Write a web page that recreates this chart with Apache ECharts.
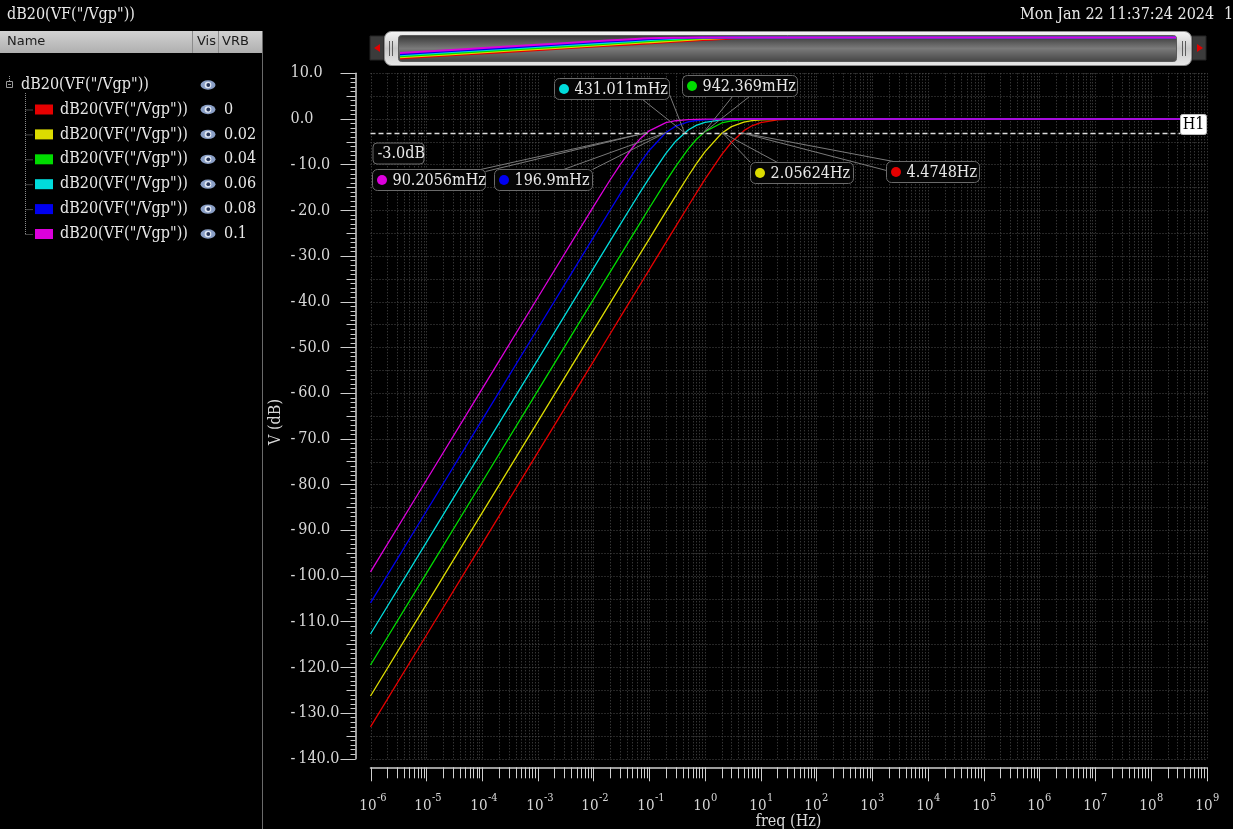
<!DOCTYPE html>
<html>
<head>
<meta charset="utf-8">
<script src="https://cdn.jsdelivr.net/npm/echarts@6/dist/echarts.min.js"></script>
<style>
  html, body { margin: 0; padding: 0; background: #000; }
  #chart { width: 1233px; height: 829px; }
</style>
</head>
<body>
<div id="chart"></div>
<script>
// ---- data -------------------------------------------------------------
// sweep frequencies (Hz)
const freq = [1e-6, 1e-5, 1e-4, 1e-3, 0.01, 0.02, 0.03, 0.05, 0.07, 0.1, 0.2, 0.3, 0.5, 0.7,
              1, 2, 3, 5, 7, 10, 20, 30, 50, 70, 100, 1000, 1e9];

// dB20(VF("/Vgp")) for each VRB value
const db_vrb_0    = [-133.02, -113.02, -93.02, -73.02, -53.02, -46.99, -43.47, -39.04, -36.11, -33.02,
                     -27.00, -23.49, -19.09, -16.22, -13.23, -7.79, -5.09, -2.55, -1.49, -0.79,
                     -0.21, -0.10, -0.03, -0.02, -0.01, 0, 0];
const db_vrb_0_02 = [-126.26, -106.26, -86.26, -66.26, -46.26, -40.24, -36.72, -32.28, -29.36, -26.27,
                     -20.28, -16.81, -12.53, -9.84, -7.18, -3.13, -1.67, -0.68, -0.36, -0.18,
                     -0.05, -0.02, -0.01, 0, 0, 0, 0];
const db_vrb_0_04 = [-119.48, -99.48, -79.48, -59.48, -39.48, -33.47, -29.95, -25.52, -22.61, -19.53,
                     -13.66, -10.36, -6.58, -4.49, -2.76, -0.87, -0.41, -0.15, -0.08, -0.04,
                     -0.01, 0, 0, 0, 0, 0, 0];
const db_vrb_0_06 = [-112.69, -92.69, -72.69, -52.69, -32.69, -26.68, -23.17, -18.77, -15.90, -12.92,
                     -7.52, -4.86, -2.41, -1.40, -0.74, -0.20, -0.09, -0.03, -0.02, -0.01,
                     0, 0, 0, 0, 0, 0, 0];
const db_vrb_0_08 = [-105.89, -85.89, -65.89, -45.89, -25.90, -19.91, -16.44, -12.18, -9.50, -6.88,
                     -2.94, -1.56, -0.63, -0.33, -0.17, -0.04, -0.02, -0.01, 0, 0,
                     0, 0, 0, 0, 0, 0, 0];
const db_vrb_0_1  = [-99.10, -79.10, -59.10, -39.11, -19.16, -13.29, -10.02, -6.29, -4.25, -2.59,
                     -0.80, -0.38, -0.14, -0.07, -0.04, -0.01, 0, 0, 0, 0,
                     0, 0, 0, 0, 0, 0, 0];

const vrbValues = ['0', '0.02', '0.04', '0.06', '0.08', '0.1'];
const traceValues = [db_vrb_0, db_vrb_0_02, db_vrb_0_04, db_vrb_0_06, db_vrb_0_08, db_vrb_0_1];
const traceName = 'dB20(VF("/Vgp"))';

// -3 dB crossing of each trace (Hz), same order as vrbValues
const cornerFreqs = [4.4748, 2.05624, 0.942369, 0.431011, 0.1969, 0.0902056];
const cornerLevel = -3.0;

// axis ranges and tick labels
const decadeExponents = [-6, -5, -4, -3, -2, -1, 0, 1, 2, 3, 4, 5, 6, 7, 8, 9];
const yMin = -140, yMax = 10;

// ---- styling ------------------------------------------------------------
const SERIF = '"DejaVu Serif Condensed", "DejaVu Serif", serif';
const SANS = '"DejaVu Sans", "Noto Sans", sans-serif';
const AXIS_COLOR = '#cfcfcf';
const GRID_COLOR = '#4c4c4c';
const TEXT_COLOR = '#e8e8e8';
const LABEL_COLOR = '#d8d8d8';
const traceColors = ['#e60000', '#dcdc00', '#00dc00', '#00dcdc', '#0000f0', '#dc00dc'];

// label boxes for the -3 dB markers: offset from the crossing point, box width,
// and the two points on the box where the leader lines start
const markerBoxes = [
  { dx: 145,  dy: 28,  w: 93,  a: [[0, 9], [7, 0]] },
  { dx: 28,   dy: 29,  w: 103, a: [[0, 0], [27, 0]] },
  { dx: -21,  dy: -58, w: 115, a: [[50, 21], [67, 21]] },
  { dx: -131, dy: -55, w: 115, a: [[88, 21], [115, 16]] },
  { dx: -172, dy: 36,  w: 98,  a: [[69, 0], [98, 0]] },
  { dx: -275, dy: 36,  w: 113, a: [[108, 0], [113, 2]] }
];

function freqLabel(f) {
  const v = f < 1 ? f * 1000 : f;
  return String(parseFloat(v.toPrecision(6))) + (f < 1 ? 'mHz' : 'Hz');
}

// log-axis tick positions: 1..9 x 10^n for every decade, plus the last decade
const tickData = [];
for (let i = 0; i < decadeExponents.length - 1; i++) {
  for (let m = 1; m <= 9; m++) {
    tickData.push([Number((m * Math.pow(10, decadeExponents[i])).toPrecision(12)), m, decadeExponents[i]]);
  }
}
tickData.push([Math.pow(10, decadeExponents[decadeExponents.length - 1]), 1,
               decadeExponents[decadeExponents.length - 1]]);

const X_AXIS_OFFSET = 8.5;

// ---- window chrome (title, tree panel, scroll bar) -----------------------
function txt(x, y, text, extra) {
  return {
    type: 'text', x: x, y: y, silent: true,
    style: Object.assign({
      text: text, fill: TEXT_COLOR, font: '16px ' + SERIF,
      textAlign: 'left', textVerticalAlign: 'middle', align: 'left', verticalAlign: 'middle'
    }, extra || {})
  };
}
function eye(cx, cy) {
  return {
    type: 'group', x: cx, y: cy, silent: true,
    children: [
      { type: 'group', scaleY: 0.62, children: [
        { type: 'circle', shape: { cx: 0, cy: 0, r: 7.5 }, style: { fill: '#8a9fc6' } }
      ]},
      { type: 'circle', shape: { cx: 0, cy: 0, r: 3.3 }, style: { fill: '#e2e9f5' } },
      { type: 'circle', shape: { cx: 0.3, cy: 0, r: 1.9 }, style: { fill: '#27365a' } }
    ]
  };
}

const graphics = [];
// title line
graphics.push(txt(7, 15, traceName));
graphics.push(txt(1020, 15, 'Mon Jan 22 11:37:24 2024'));
graphics.push(txt(1224, 15, '1'));

// tree header
graphics.push({
  type: 'rect', silent: true, shape: { x: 0, y: 31, width: 262, height: 22 },
  style: { fill: { type: 'linear', x: 0, y: 0, x2: 0, y2: 1,
    colorStops: [{ offset: 0, color: '#d2d2d2' }, { offset: 1, color: '#afafaf' }] } }
});
[192.5, 218.5].forEach(function (x) {
  graphics.push({ type: 'line', silent: true, shape: { x1: x, y1: 31, x2: x, y2: 53 },
    style: { stroke: '#8c8c8c', lineWidth: 1 } });
});
graphics.push(txt(7, 42, 'Name', { fill: '#1c1c1c', font: '13px ' + SANS }));
graphics.push(txt(197, 42, 'Vis', { fill: '#1c1c1c', font: '13px ' + SANS }));
graphics.push(txt(222, 42, 'VRB', { fill: '#1c1c1c', font: '13px ' + SANS }));
graphics.push({ type: 'line', silent: true, shape: { x1: 262.5, y1: 31, x2: 262.5, y2: 829 },
  style: { stroke: '#6a6a6a', lineWidth: 1 } });

// tree root
const rootY = 85, rowStep = 24.9, firstRowY = 109.5;
graphics.push({ type: 'rect', silent: true, shape: { x: 6.5, y: rootY - 3.5, width: 6, height: 6 },
  style: { fill: 'none', stroke: '#9a9a9a', lineWidth: 1 } });
graphics.push({ type: 'line', silent: true, shape: { x1: 8, y1: rootY - 0.5, x2: 11, y2: rootY - 0.5 },
  style: { stroke: '#9a9a9a', lineWidth: 1 } });
graphics.push({ type: 'line', silent: true, shape: { x1: 9.5, y1: 76, x2: 9.5, y2: rootY - 4 },
  style: { stroke: '#9a9a9a', lineWidth: 1, lineDash: [1, 1] } });
graphics.push(txt(21, rootY, traceName));
graphics.push(eye(208, rootY));

// tree children, one per trace
const lastRowY = firstRowY + rowStep * (vrbValues.length - 1);
graphics.push({ type: 'line', silent: true, shape: { x1: 25.5, y1: 93, x2: 25.5, y2: lastRowY },
  style: { stroke: '#8a8a8a', lineWidth: 1, lineDash: [1, 1] } });
vrbValues.forEach(function (v, i) {
  const y = firstRowY + rowStep * i;
  graphics.push({ type: 'line', silent: true, shape: { x1: 25.5, y1: y + 0.5, x2: 33, y2: y + 0.5 },
    style: { stroke: '#8a8a8a', lineWidth: 1, lineDash: [1, 1] } });
  graphics.push({ type: 'rect', silent: true, shape: { x: 35, y: y - 5, width: 18, height: 10 },
    style: { fill: traceColors[i] } });
  graphics.push(txt(60, y, traceName));
  graphics.push(eye(208, y));
  graphics.push(txt(224, y, v));
});

// y axis title
graphics.push({
  type: 'text', x: 276, y: 422, rotation: Math.PI / 2, silent: true,
  style: { text: 'V (dB)', fill: LABEL_COLOR, font: '16px ' + SERIF,
    textAlign: 'center', textVerticalAlign: 'middle', align: 'center', verticalAlign: 'middle' }
});

// scroll bar with overview
graphics.push({ type: 'rect', silent: true, z: 0, shape: { x: 370, y: 36, width: 14, height: 24 },
  style: { fill: '#3b3b3b', stroke: '#242424' } });
graphics.push({ type: 'polygon', silent: true, z: 1, shape: { points: [[380, 44], [380, 52], [374, 48]] },
  style: { fill: '#e00000' } });
graphics.push({ type: 'rect', silent: true, z: 0, shape: { x: 1192, y: 36, width: 14, height: 24 },
  style: { fill: '#3b3b3b', stroke: '#242424' } });
graphics.push({ type: 'polygon', silent: true, z: 1, shape: { points: [[1197, 44], [1197, 52], [1203, 48]] },
  style: { fill: '#e00000' } });
graphics.push({ type: 'rect', silent: true, z: 0, shape: { x: 384.5, y: 31.5, width: 807, height: 34, r: 7 },
  style: { stroke: '#8e8e8e', lineWidth: 1, fill: { type: 'linear', x: 0, y: 0, x2: 0, y2: 1,
    colorStops: [{ offset: 0, color: '#f6f6f6' }, { offset: 0.5, color: '#c9c9c9' }, { offset: 1, color: '#e9e9e9' }] } }
});
graphics.push({ type: 'rect', silent: true, z: 0, shape: { x: 398.5, y: 35.5, width: 778, height: 26, r: 3 },
  style: { stroke: '#5a5a5a', lineWidth: 1, fill: { type: 'linear', x: 0, y: 0, x2: 0, y2: 1,
    colorStops: [{ offset: 0, color: '#353535' }, { offset: 0.5, color: '#7a7a7a' }, { offset: 1, color: '#444444' }] } }
});
[389.5, 392.5, 1182.5, 1185.5].forEach(function (x) {
  graphics.push({ type: 'line', silent: true, z: 1, shape: { x1: x, y1: 41, x2: x, y2: 56 },
    style: { stroke: '#5c5c5c', lineWidth: 1 } });
});

// ---- series -------------------------------------------------------------
const series = [];

// x axis ticks, decade labels and the dotted vertical grid
series.push({
  type: 'custom', xAxisIndex: 0, yAxisIndex: 0, z: 1, silent: true, clip: false,
  data: tickData,
  renderItem: function (params, api) {
    const f = api.value(0), m = api.value(1), e = api.value(2);
    const top = api.coord([f, yMax]);
    const bot = api.coord([f, yMin]);
    const x = Math.round(top[0]) + 0.5;
    const ay = bot[1] + X_AXIS_OFFSET;
    const children = [
      { type: 'line', shape: { x1: x, y1: top[1], x2: x, y2: bot[1] },
        style: { stroke: GRID_COLOR, lineWidth: 1, lineDash: [1, 2] } },
      { type: 'line', shape: { x1: x, y1: ay, x2: x, y2: ay + (m === 1 ? 14 : 11) },
        style: { stroke: AXIS_COLOR, lineWidth: 1 } }
    ];
    if (m === 1) {
      children.push({ type: 'text', x: x + 5, y: ay + 39,
        style: { text: '10', fill: LABEL_COLOR, font: '15px ' + SERIF,
          textAlign: 'right', textVerticalAlign: 'middle', align: 'right', verticalAlign: 'middle' } });
      children.push({ type: 'text', x: x + 5.5, y: ay + 31,
        style: { text: String(e), fill: LABEL_COLOR, font: '11px ' + SERIF,
          textAlign: 'left', textVerticalAlign: 'middle', align: 'left', verticalAlign: 'middle' } });
    }
    return { type: 'group', children: children };
  }
});

traceValues.forEach(function (vals, i) {
  const pts = freq.map(function (f, k) { return [f, vals[k]]; });
  series.push({
    type: 'line', name: vrbValues[i], xAxisIndex: 0, yAxisIndex: 0, z: 3 + i,
    data: pts, showSymbol: false, symbol: 'none', silent: true, animation: false,
    lineStyle: { color: traceColors[i], width: 1.3 }
  });
  // overview inside the scroll bar
  series.push({
    type: 'line', name: vrbValues[i] + ' overview', xAxisIndex: 1, yAxisIndex: 2, z: 3 + i,
    data: pts, showSymbol: false, symbol: 'none', silent: true, animation: false,
    lineStyle: { color: traceColors[i], width: 2 }
  });
});

// horizontal marker H1 at the -3 dB level
series.push({
  type: 'custom', xAxisIndex: 0, yAxisIndex: 0, z: 20, silent: true, clip: false,
  data: [[Math.pow(10, decadeExponents[0]), cornerLevel]],
  renderItem: function (params, api) {
    const p = api.coord([api.value(0), api.value(1)]);
    const right = api.coord([Math.pow(10, decadeExponents[decadeExponents.length - 1]), api.value(1)]);
    const y = Math.round(p[1]) + 0.5;
    return {
      type: 'group',
      children: [
        { type: 'line', shape: { x1: p[0], y1: y, x2: right[0] - 26, y2: y },
          style: { stroke: '#dcdcdc', lineWidth: 1.5, lineDash: [5, 3] } },
        { type: 'rect', shape: { x: right[0] - 26, y: y - 19, width: 26, height: 20, r: 2 },
          style: { fill: '#ffffff', stroke: '#bbbbbb' } },
        { type: 'text', x: right[0] - 13, y: y - 9,
          style: { text: 'H1', fill: '#000', font: '16px ' + SERIF,
            textAlign: 'center', textVerticalAlign: 'middle', align: 'center', verticalAlign: 'middle' } },
        { type: 'rect', shape: { x: p[0] + 2.5, y: y + 9.5, width: 51, height: 21, r: 4 },
          style: { fill: '#050505', stroke: '#6a6a6a', lineWidth: 1 } },
        { type: 'text', x: p[0] + 7, y: y + 20,
          style: { text: api.value(1).toFixed(1) + 'dB', fill: TEXT_COLOR, font: '16px ' + SERIF,
            textAlign: 'left', textVerticalAlign: 'middle', align: 'left', verticalAlign: 'middle' } }
      ]
    };
  }
});

// -3 dB crossing markers with leader lines
series.push({
  type: 'custom', xAxisIndex: 0, yAxisIndex: 0, z: 21, silent: true, clip: false,
  data: cornerFreqs.map(function (f, i) { return [f, cornerLevel, i]; }),
  renderItem: function (params, api) {
    const i = api.value(2);
    const f = api.value(0);
    const p = api.coord([f, api.value(1)]);
    const b = markerBoxes[i];
    const bx = Math.round(p[0] + b.dx) + 0.5, by = Math.round(p[1] + b.dy) + 0.5;
    const children = b.a.map(function (a) {
      return { type: 'line', shape: { x1: bx + a[0], y1: by + a[1], x2: p[0], y2: p[1] },
        style: { stroke: '#7a7a7a', lineWidth: 1 } };
    });
    children.push({ type: 'rect', shape: { x: bx, y: by, width: b.w, height: 21, r: 5 },
      style: { fill: '#050505', stroke: '#6a6a6a', lineWidth: 1 } });
    children.push({ type: 'circle', shape: { cx: bx + 9.5, cy: by + 10.5, r: 5 },
      style: { fill: traceColors[i] } });
    children.push({ type: 'text', x: bx + 20, y: by + 11,
      style: { text: freqLabel(f), fill: TEXT_COLOR, font: '16px ' + SERIF,
        textAlign: 'left', textVerticalAlign: 'middle', align: 'left', verticalAlign: 'middle' } });
    return { type: 'group', children: children };
  }
});

// ---- chart --------------------------------------------------------------
const chart = echarts.init(document.getElementById('chart'), null, { renderer: 'canvas' });
chart.setOption({
  backgroundColor: '#000',
  animation: false,
  graphic: { elements: graphics },
  grid: [
    { left: 370.5, top: 73.3, width: 836, height: 685.5, containLabel: false, outerBoundsMode: 'none', show: false },
    { left: 400, top: 36, width: 776, height: 23.5, containLabel: false, outerBoundsMode: 'none', show: false }
  ],
  xAxis: [
    {
      type: 'log', gridIndex: 0, logBase: 10,
      min: Math.pow(10, decadeExponents[0]), max: Math.pow(10, decadeExponents[decadeExponents.length - 1]),
      position: 'bottom', offset: X_AXIS_OFFSET,
      axisLine: { show: true, onZero: false, lineStyle: { color: AXIS_COLOR, width: 1.5 } },
      axisTick: { show: false },
      splitLine: { show: false },
      axisLabel: { show: false },
      name: 'freq (Hz)', nameLocation: 'middle', nameGap: 47,
      nameTextStyle: { color: LABEL_COLOR, fontFamily: SERIF, fontSize: 16 }
    },
    {
      type: 'log', gridIndex: 1, logBase: 10, show: false,
      min: Math.pow(10, decadeExponents[0]), max: Math.pow(10, decadeExponents[decadeExponents.length - 1])
    }
  ],
  yAxis: [
    {
      type: 'value', gridIndex: 0, min: yMin, max: yMax, interval: 10, position: 'left', offset: 15,
      axisLine: { show: true, onZero: false, lineStyle: { color: AXIS_COLOR, width: 1.5 } },
      axisTick: { show: true, length: 15, lineStyle: { color: AXIS_COLOR, width: 1 } },
      minorTick: { show: true, splitNumber: 10, length: 5, lineStyle: { color: AXIS_COLOR, width: 1 } },
      splitLine: { show: false },
      axisLabel: {
        margin: 65, align: 'left', color: LABEL_COLOR, fontFamily: SERIF, fontSize: 16,
        formatter: function (v) { return v < 0 ? '-\u2009' + Math.abs(v).toFixed(1) : v.toFixed(1); }
      }
    },
    {
      type: 'value', gridIndex: 0, min: yMin, max: yMax, interval: 5, position: 'left', offset: 15,
      axisLine: { show: false, onZero: false },
      axisTick: { show: true, length: 9, lineStyle: { color: AXIS_COLOR, width: 1 } },
      axisLabel: { show: false },
      splitLine: { show: true, lineStyle: { color: GRID_COLOR, width: 1, type: [1, 2] } }
    },
    { type: 'value', gridIndex: 1, min: yMin, max: yMax, show: false }
  ],
  series: series
});
</script>
</body>
</html>
